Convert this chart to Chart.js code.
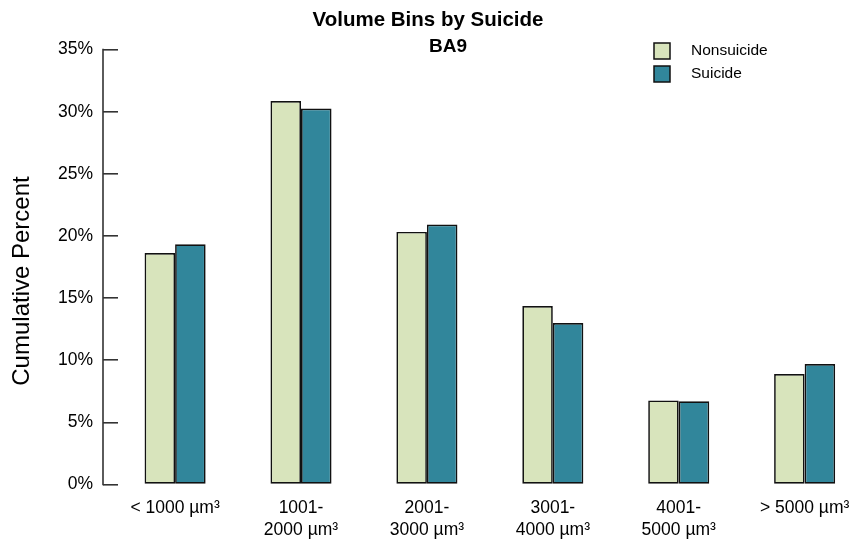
<!DOCTYPE html>
<html>
<head>
<meta charset="utf-8">
<script src="https://cdn.jsdelivr.net/npm/chart.js@4/dist/chart.umd.min.js"></script>
<style>
  html, body { margin: 0; padding: 0; background: #ffffff; }
  #wrap { width: 856px; height: 542px; }
</style>
</head>
<body>
<div id="wrap"><canvas id="chart" width="856" height="542"></canvas></div>
<script>
// Volume bins (µm³) and the cumulative percent of each group falling in them
const categories = [
  '< 1000 µm³',
  ['1001-', '2000 µm³'],
  ['2001-', '3000 µm³'],
  ['3001-', '4000 µm³'],
  ['4001-', '5000 µm³'],
  '> 5000 µm³'
];
const seriesNames = ['Nonsuicide', 'Suicide'];
const nonsuicide = [18.63, 30.86, 20.33, 14.37, 6.77, 8.89];
const suicide = [19.33, 30.26, 20.92, 12.99, 6.69, 9.69];
const yTicks = [0, 5, 10, 15, 20, 25, 30, 35];

const FONT = 'Liberation Sans, Arial, sans-serif';
const AXIS_COLOR = '#333333';
const COLORS = ['#d8e4bc', '#31869b'];

// bar centres sit on integer positions of a linear x scale
const toPoints = (vals) => vals.map((v, i) => ({ x: i, y: v }));

// Bracket-style y axis line, region label, rotated axis title and a floating legend
const decorations = {
  id: 'decorations',
  afterDraw(chart, args, opts) {
    const { ctx, chartArea } = chart;
    const y = chart.scales.y;
    ctx.save();

    // vertical axis line, offset to the left of the plotting area
    const ax = chartArea.left - opts.tickLength;
    ctx.strokeStyle = AXIS_COLOR;
    ctx.lineWidth = 1.6;
    ctx.beginPath();
    ctx.moveTo(ax, y.getPixelForValue(yTicks[0]) + 0.8);
    ctx.lineTo(ax, y.getPixelForValue(yTicks[yTicks.length - 1]) - 0.8);
    ctx.stroke();

    // region label under the main title
    ctx.fillStyle = '#000';
    ctx.textAlign = 'center';
    ctx.textBaseline = 'middle';
    ctx.font = opts.regionFont;
    ctx.fillText(opts.region, opts.regionX, opts.regionY);

    // y axis title
    ctx.font = opts.titleFont;
    ctx.translate(opts.titleX, opts.titleY);
    ctx.rotate(-Math.PI / 2);
    ctx.fillText(opts.title, 0, 0);
    ctx.setTransform(1, 0, 0, 1, 0, 0);

    // legend
    ctx.font = opts.legendFont;
    ctx.textAlign = 'left';
    chart.data.datasets.forEach((ds, i) => {
      const top = opts.legendY + i * opts.legendStep;
      ctx.fillStyle = ds.backgroundColor;
      ctx.fillRect(opts.legendX, top, opts.boxSize, opts.boxSize);
      ctx.strokeStyle = '#111';
      ctx.lineWidth = 1.5;
      ctx.strokeRect(opts.legendX, top, opts.boxSize, opts.boxSize);
      ctx.fillStyle = '#000';
      ctx.fillText(ds.label, opts.legendX + 37, top + opts.boxSize / 2);
    });
    ctx.restore();
  }
};

new Chart(document.getElementById('chart'), {
  type: 'bar',
  data: {
    datasets: [
      { label: seriesNames[0], data: toPoints(nonsuicide), backgroundColor: COLORS[0] },
      { label: seriesNames[1], data: toPoints(suicide), backgroundColor: COLORS[1] }
    ]
  },
  options: {
    responsive: false,
    devicePixelRatio: 1,
    animation: false,
    layout: { padding: { left: 0, right: 0, top: 0, bottom: 0 } },
    datasets: {
      bar: {
        borderColor: '#111111',
        borderWidth: 1.7,
        borderSkipped: false,
        categoryPercentage: 0.485,
        barPercentage: 1.0
      }
    },
    scales: {
      x: {
        type: 'linear',
        offset: false,
        bounds: 'data',
        min: -0.4535,
        max: 5.408,
        grid: { display: false, drawTicks: false },
        border: { display: false },
        afterBuildTicks: (s) => { s.ticks = categories.map((_, i) => ({ value: i })); },
        afterFit: (s) => { s.height = 57.5; s.paddingLeft = 0; s.paddingRight = 0; },
        ticks: {
          autoSkip: false,
          maxRotation: 0,
          padding: 12,
          color: '#000',
          font: { family: FONT, size: 17.5, lineHeight: 1.3 },
          callback: (v) => categories[v]
        }
      },
      y: {
        min: 0,
        max: 35,
        afterBuildTicks: (s) => { s.ticks = yTicks.map((v) => ({ value: v })); },
        afterFit: (s) => { s.width = 118; },
        grid: {
          drawOnChartArea: false,
          drawTicks: true,
          tickLength: 15,
          color: AXIS_COLOR,
          lineWidth: 1.6
        },
        border: { display: false },
        ticks: {
          padding: 10,
          color: '#000',
          font: { family: FONT, size: 17.5 },
          callback: (v) => v + '%'
        }
      }
    },
    plugins: {
      legend: { display: false },
      tooltip: { enabled: false },
      title: {
        display: true,
        text: 'Volume Bins by Suicide',
        color: '#000',
        font: { family: FONT, size: 20.5, weight: 'bold' },
        padding: { top: 8, bottom: 17 }
      },
      decorations: {
        tickLength: 15,
        region: 'BA9',
        regionFont: 'bold 19px ' + FONT,
        regionX: 448,
        regionY: 47,
        title: 'Cumulative Percent',
        titleFont: '24px ' + FONT,
        titleX: 22,
        titleY: 281,
        legendFont: '15.5px ' + FONT,
        legendX: 654,
        legendY: 43,
        legendStep: 23,
        boxSize: 16
      }
    }
  },
  plugins: [decorations]
});
</script>
</body>
</html>
